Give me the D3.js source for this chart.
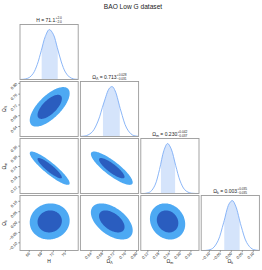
<!DOCTYPE html>
<html>
<head>
<meta charset="utf-8">
<script src="https://cdn.jsdelivr.net/npm/d3@7"></script>
<style>
  body { margin: 0; background: #fff; }
  svg { font-family: "Liberation Sans", Arial, sans-serif; }
  text { fill: #222; }
</style>
</head>
<body>
<svg id="corner" width="262" height="270"></svg>
<script>
// ---- data ----
var chartTitle = "BAO Low G dataset";
var nameMain = ["H", "Ω", "Ω", "Ω"];
var nameSub = ["", "Λ", "m", "k"];
var means = [71.1, 0.713, 0.230, 0.003];
var errPlus = [2.0, 0.028, 0.042, 0.035];
var errMinus = [2.0, 0.031, 0.037, 0.035];
var meanText = ["71.1", "0.713", "0.230", "0.003"];
var plusText = ["+2.0", "+0.028", "+0.042", "+0.035"];
var minusText = ["−2.0", "−0.031", "−0.037", "−0.035"];
var domains = [[63.7, 78.2], [0.603, 0.807], [0.081, 0.405], [-0.137, 0.128]];
var ticks = [
  [66, 69, 72, 75],
  [0.64, 0.68, 0.72, 0.76, 0.80],
  [0.12, 0.18, 0.24, 0.30, 0.36],
  [-0.10, -0.05, 0.00, 0.05, 0.10]
];
var tickText = [
  ["66", "69", "72", "75"],
  ["0.64", "0.68", "0.72", "0.76", "0.80"],
  ["0.12", "0.18", "0.24", "0.30", "0.36"],
  ["−0.10", "−0.05", "0.00", "0.05", "0.10"]
];
// 1D marginals (x in parameter units, relative density)
var densX = [
  [63.7, 64, 65, 66, 67, 68, 69, 70, 71, 72, 73, 74, 75, 76, 77, 78, 78.2],
  [0.603, 0.625, 0.645, 0.665, 0.685, 0.705, 0.715, 0.725, 0.745, 0.765, 0.785, 0.807],
  [0.081, 0.11, 0.135, 0.16, 0.185, 0.21, 0.23, 0.25, 0.275, 0.30, 0.325, 0.35, 0.375, 0.405],
  [-0.137, -0.11, -0.085, -0.06, -0.035, -0.01, 0.005, 0.02, 0.045, 0.07, 0.095, 0.12, 0.128]
];
var densY = [
  [0.001, 0.002, 0.010, 0.039, 0.122, 0.301, 0.576, 0.860, 0.999, 0.904, 0.637, 0.350, 0.149, 0.050, 0.013, 0.003, 0.002],
  [0.002, 0.020, 0.095, 0.310, 0.670, 0.968, 0.997, 0.910, 0.510, 0.170, 0.032, 0.003],
  [0.000, 0.005, 0.037, 0.167, 0.477, 0.864, 1.000, 0.893, 0.563, 0.249, 0.077, 0.017, 0.003, 0.000],
  [0.000, 0.005, 0.042, 0.198, 0.554, 0.933, 0.998, 0.889, 0.487, 0.160, 0.031, 0.004, 0.002]
];
// correlation between parameters (row, col)
var corr = [
  [1, 0.68, -0.90, 0.05],
  [0.68, 1, -0.85, -0.50],
  [-0.90, -0.85, 1, -0.15],
  [0.05, -0.50, -0.15, 1]
];
var levelRadius = [2.486, 1.516]; // 95% and 68% in 2D
var levelColor = ["#4da9f3", "#2a5dbf"];

// ---- layout ----
var svg = d3.select("#corner");
var padLeft = 20, padTop = 24.5, cellW = 58.2, cellH = 55, gapX = 2.2, gapY = 2;
var n = means.length;
function cx(j) { return padLeft + j * (cellW + gapX); }
function cy(i) { return padTop + i * (cellH + gapY); }

var xs = domains.map(function(d, j) {
  return d3.scaleLinear().domain(d).range([cx(j), cx(j) + cellW]);
});
var ys = domains.map(function(d, i) {
  return d3.scaleLinear().domain(d).range([cy(i) + cellH, cy(i)]);
});

var defs = svg.append("defs");
function cellClip(i, j) {
  var id = "clip-" + i + "-" + j;
  defs.append("clipPath").attr("id", id)
    .append("rect")
    .attr("x", cx(j)).attr("y", cy(i))
    .attr("width", cellW).attr("height", cellH);
  return "url(#" + id + ")";
}

svg.append("text")
  .attr("x", 133).attr("y", 8.5)
  .attr("text-anchor", "middle")
  .style("font-size", "6.6px")
  .text(chartTitle);

// diagonal panels
for (var i = 0; i < n; i++) {
  var g = svg.append("g").attr("clip-path", cellClip(i, i));
  var yd = d3.scaleLinear().domain([0, 1.1]).range([cy(i) + cellH, cy(i)]);
  var pts = densX[i].map(function(x, k) { return [x, densY[i][k]]; });
  var xsc = xs[i];

  var bandId = "band-" + i;
  defs.append("clipPath").attr("id", bandId)
    .append("rect")
    .attr("x", xsc(means[i] - errMinus[i])).attr("y", cy(i))
    .attr("width", xsc(means[i] + errPlus[i]) - xsc(means[i] - errMinus[i]))
    .attr("height", cellH);

  g.append("path")
    .datum(pts)
    .attr("clip-path", "url(#" + bandId + ")")
    .attr("fill", "#d5e4fb")
    .attr("d", d3.area()
      .x(function(d) { return xsc(d[0]); })
      .y0(yd(0))
      .y1(function(d) { return yd(d[1]); })
      .curve(d3.curveCatmullRom));

  g.append("path")
    .datum(pts)
    .attr("fill", "none")
    .attr("stroke", "#7eaef6")
    .attr("stroke-width", 0.9)
    .attr("d", d3.line()
      .x(function(d) { return xsc(d[0]); })
      .y(function(d) { return yd(d[1]); })
      .curve(d3.curveCatmullRom));

  // title above the panel
  var tg = svg.append("g");
  var main = tg.append("text").attr("x", 0).attr("y", 0).style("font-size", "5px");
  main.append("tspan").text(nameMain[i]);
  if (nameSub[i]) main.append("tspan").attr("dy", 1.2).style("font-size", "3.6px").text(nameSub[i]);
  main.append("tspan").attr("dy", nameSub[i] ? -1.2 : 0).text(" = " + meanText[i]);
  var w = main.node().getComputedTextLength();
  tg.append("text").attr("x", w + 0.3).attr("y", -2.1).style("font-size", "3.2px").text(plusText[i]);
  tg.append("text").attr("x", w + 0.3).attr("y", 1.6).style("font-size", "3.2px").text(minusText[i]);
  var bb = tg.node().getBBox();
  tg.attr("transform", "translate(" + (cx(i) + cellW / 2 - bb.width / 2) + "," + (cy(i) - 3) + ")");
}

// 2D panels
var angles = d3.range(0, 2 * Math.PI + 0.001, Math.PI / 72);
for (var i = 1; i < n; i++) {
  for (var j = 0; j < i; j++) {
    var g = svg.append("g").attr("clip-path", cellClip(i, j));
    var sx = (errPlus[j] + errMinus[j]) / 2;
    var sy = (errPlus[i] + errMinus[i]) / 2;
    var rho = corr[i][j];
    levelRadius.forEach(function(r, k) {
      var pts = angles.map(function(a) {
        return [
          means[j] + sx * r * Math.cos(a),
          means[i] + sy * r * (rho * Math.cos(a) + Math.sqrt(1 - rho * rho) * Math.sin(a))
        ];
      });
      g.append("path")
        .datum(pts)
        .attr("fill", levelColor[k])
        .attr("d", d3.line()
          .x(function(d) { return xs[j](d[0]); })
          .y(function(d) { return ys[i](d[1]); })
          .curve(d3.curveLinearClosed));
    });
  }
}

// frames
for (var i = 0; i < n; i++) {
  for (var j = 0; j <= i; j++) {
    svg.append("rect")
      .attr("x", cx(j)).attr("y", cy(i))
      .attr("width", cellW).attr("height", cellH)
      .attr("fill", "none")
      .attr("stroke", "#9a9a9a")
      .attr("stroke-width", 0.9);
  }
}

// bottom axes
var yb = cy(n - 1) + cellH;
for (var j = 0; j < n; j++) {
  ticks[j].forEach(function(t, k) {
    var x = xs[j](t);
    svg.append("line").attr("x1", x).attr("x2", x).attr("y1", yb).attr("y2", yb + 1.8)
      .attr("stroke", "#444").attr("stroke-width", 0.5);
    svg.append("text")
      .attr("transform", "translate(" + (x + 1) + "," + (yb + 3.5) + ") rotate(-45)")
      .attr("text-anchor", "end")
      .style("font-size", "3.9px")
      .text(tickText[j][k]);
  });
  var lab = svg.append("text")
    .attr("x", cx(j) + cellW / 2).attr("y", 263)
    .attr("text-anchor", "middle")
    .style("font-size", "5px");
  lab.append("tspan").text(nameMain[j]);
  if (nameSub[j]) lab.append("tspan").attr("dy", 1.2).style("font-size", "3.6px").text(nameSub[j]);
}

// left axes
for (var i = 1; i < n; i++) {
  ticks[i].forEach(function(t, k) {
    var y = ys[i](t);
    svg.append("line").attr("x1", padLeft - 1.8).attr("x2", padLeft).attr("y1", y).attr("y2", y)
      .attr("stroke", "#444").attr("stroke-width", 0.5);
    svg.append("text")
      .attr("transform", "translate(" + (padLeft - 2.5) + "," + (y + 1) + ") rotate(-45)")
      .attr("text-anchor", "end")
      .style("font-size", "3.9px")
      .text(tickText[i][k]);
  });
  var lab = svg.append("text")
    .attr("transform", "translate(6," + (cy(i) + cellH / 2) + ") rotate(-90)")
    .attr("text-anchor", "middle")
    .style("font-size", "5px");
  lab.append("tspan").text(nameMain[i]);
  if (nameSub[i]) lab.append("tspan").attr("dy", 1.2).style("font-size", "3.6px").text(nameSub[i]);
}
</script>
</body>
</html>
